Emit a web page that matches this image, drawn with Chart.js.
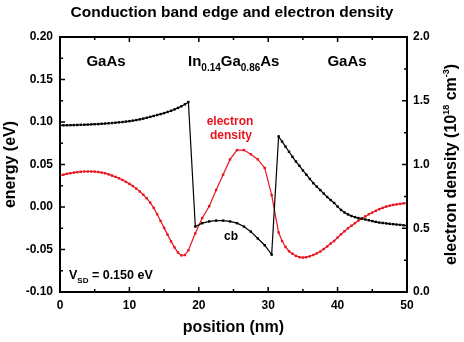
<!DOCTYPE html>
<html>
<head>
<meta charset="utf-8">
<script src="https://cdn.jsdelivr.net/npm/chart.js@4.4.1/dist/chart.umd.min.js"></script>
<style>
  body { margin: 0; background: #fff; }
  canvas { display: block; }
</style>
</head>
<body>
<canvas id="band_chart" width="464" height="342"></canvas>
<script>
const font_family = "'Liberation Sans', Arial, sans-serif";
const red_colour = "#e8141e";

// positions along the structure (nm)
const position_nm = [
    0, 0.5, 1, 1.5, 2, 2.5, 3, 3.5, 4, 4.5, 5, 5.5, 6, 6.5, 7, 7.5, 8, 8.5, 9, 9.5,
    10, 10.5, 11, 11.5, 12, 12.5, 13, 13.5, 14, 14.5, 15, 15.5, 16, 16.5, 17, 17.5, 18, 18.5,
    19.5, 20.5, 21.5, 22.5, 23.5, 24.5, 25.5, 26.5, 27.5, 28.5, 29.5, 30.5, 31.5,
    32, 32.5, 33, 33.5, 34, 34.5, 35, 35.5, 36, 36.5, 37, 37.5, 38, 38.5, 39, 39.5,
    40, 40.5, 41, 41.5, 42, 42.5, 43, 43.5, 44, 44.5, 45, 45.5, 46, 46.5, 47, 47.5,
    48, 48.5, 49, 49.5, 50
];

// conduction band edge (eV), left axis
const cb_energy = [
    0.0960, 0.0961, 0.0962, 0.0963, 0.0964, 0.0965, 0.0967, 0.0968, 0.0970, 0.0972,
    0.0974, 0.0976, 0.0979, 0.0982, 0.0985, 0.0988, 0.0992, 0.0996, 0.1000, 0.1005,
    0.1010, 0.1016, 0.1023, 0.1031, 0.1040, 0.1050, 0.1060, 0.1071, 0.1082, 0.1093,
    0.1105, 0.1118, 0.1132, 0.1148, 0.1166, 0.1185, 0.1208, 0.1235,
    -0.023, -0.019, -0.017, -0.016, -0.016, -0.017, -0.019, -0.023, -0.029, -0.037,
    -0.045, -0.056, 0.083,
    0.077, 0.071, 0.065, 0.059, 0.0535, 0.0485, 0.043, 0.038, 0.033, 0.028,
    0.024, 0.020, 0.0158, 0.0118, 0.0082, 0.0048, 0.0005, -0.0035, -0.0065, -0.0087,
    -0.0106, -0.0119, -0.013, -0.0138, -0.0147, -0.0156, -0.0166, -0.0175, -0.0183, -0.0188,
    -0.0193, -0.0198, -0.0202, -0.0206, -0.021, -0.0215, -0.022
];

// electron density (10^18 cm^-3), right axis
const electron_density = [
    0.913, 0.920, 0.927, 0.932, 0.937, 0.940, 0.943, 0.945, 0.945, 0.945,
    0.944, 0.941, 0.937, 0.931, 0.923, 0.913, 0.903, 0.892, 0.879, 0.864,
    0.848, 0.831, 0.811, 0.788, 0.763, 0.735, 0.701, 0.660, 0.610, 0.557,
    0.503, 0.450, 0.397, 0.350, 0.310, 0.287, 0.290, 0.327,
    0.460, 0.580, 0.673, 0.800, 0.920, 1.040, 1.113, 1.113, 1.080, 1.040,
    0.973, 0.760, 0.467,
    0.400, 0.353, 0.320, 0.300, 0.283, 0.273, 0.270, 0.273, 0.280, 0.290,
    0.303, 0.317, 0.337, 0.357, 0.380, 0.400, 0.427, 0.453, 0.477, 0.500,
    0.520, 0.540, 0.560, 0.577, 0.593, 0.610, 0.623, 0.637, 0.650, 0.660,
    0.670, 0.677, 0.683, 0.687, 0.691, 0.695, 0.697
];

const x_ticks = { min: 0, max: 50, major: 10, minor: 5 };
const energy_ticks = { min: -0.1, max: 0.2, major: 0.05, minor: 0.025 };
const density_ticks = { min: 0, max: 2, major: 0.5, minor: 0.25 };

function toPoints(xs, ys) {
    return xs.map((x, i) => ({ x: x, y: ys[i] }));
}

function boldFont(size) {
    return "bold " + size + "px " + font_family;
}

// frame plus inward ticks on all four sides
const frame_ticks = {
    id: "frame_ticks",
    afterDraw(chart) {
        const ctx = chart.ctx;
        const area = chart.chartArea;
        const { x, y, y2 } = chart.scales;
        ctx.save();
        ctx.strokeStyle = "#000";
        ctx.lineWidth = 2;
        ctx.strokeRect(area.left, area.top, area.right - area.left, area.bottom - area.top);
        ctx.lineWidth = 1.5;
        ctx.beginPath();
        let count = Math.round((x_ticks.max - x_ticks.min) / x_ticks.minor);
        for (let i = 0; i <= count; i++) {
            let px = x.getPixelForValue(x_ticks.min + i * x_ticks.minor);
            let len = i % 2 === 0 ? 5 : 3;
            ctx.moveTo(px, area.bottom); ctx.lineTo(px, area.bottom - len);
            ctx.moveTo(px, area.top); ctx.lineTo(px, area.top + len);
        }
        count = Math.round((energy_ticks.max - energy_ticks.min) / energy_ticks.minor);
        for (let i = 0; i <= count; i++) {
            let py = y.getPixelForValue(energy_ticks.min + i * energy_ticks.minor);
            let len = i % 2 === 0 ? 5 : 3;
            ctx.moveTo(area.left, py); ctx.lineTo(area.left + len, py);
        }
        count = Math.round((density_ticks.max - density_ticks.min) / density_ticks.minor);
        for (let i = 0; i <= count; i++) {
            let py = y2.getPixelForValue(density_ticks.min + i * density_ticks.minor);
            let len = i % 2 === 0 ? 5 : 3;
            ctx.moveTo(area.right, py); ctx.lineTo(area.right - len, py);
        }
        ctx.stroke();
        ctx.restore();
    }
};

// draws a run of [text, size, baseline shift] pieces from x, returns end x
function drawRun(ctx, pieces, x, y) {
    for (let piece of pieces) {
        ctx.font = boldFont(piece[1]);
        ctx.fillText(piece[0], x, y + piece[2]);
        x += ctx.measureText(piece[0]).width;
    }
    return x;
}

function runWidth(ctx, pieces) {
    let w = 0;
    for (let piece of pieces) {
        ctx.font = boldFont(piece[1]);
        w += ctx.measureText(piece[0]).width;
    }
    return w;
}

const labels_plugin = {
    id: "labels_plugin",
    afterDraw(chart) {
        const ctx = chart.ctx;
        ctx.save();
        ctx.textBaseline = "alphabetic";
        ctx.fillStyle = "#000";

        ctx.textAlign = "center";
        ctx.font = boldFont(15);
        ctx.fillText("GaAs", 106, 66);
        ctx.fillText("GaAs", 347, 66);

        ctx.textAlign = "left";
        drawRun(ctx, [["In", 15, 0], ["0.14", 10, 5], ["Ga", 15, 0], ["0.86", 10, 5], ["As", 15, 0]], 188, 66);

        ctx.textAlign = "center";
        ctx.font = boldFont(12);
        ctx.fillText("cb", 231, 240);
        ctx.fillStyle = red_colour;
        ctx.fillText("electron", 230, 125);
        ctx.fillText("density", 231, 139);

        ctx.fillStyle = "#000";
        ctx.textAlign = "left";
        drawRun(ctx, [["V", 12.5, 0], ["SD", 8, 4], [" = 0.150 eV", 12.5, 0]], 69, 279);

        // right axis title, reads bottom to top
        const title_pieces = [["electron density (10", 16, 0], ["18", 9, -7], [" cm", 16, 0], ["-3", 9, -7], [")", 16, 0]];
        const area = chart.chartArea;
        ctx.translate(456, (area.top + area.bottom) / 2);
        ctx.rotate(-Math.PI / 2);
        ctx.textBaseline = "alphabetic";
        let w = runWidth(ctx, title_pieces);
        drawRun(ctx, title_pieces, -w / 2, 0);
        ctx.restore();
    }
};

const tick_font = { family: font_family, size: 12, weight: "bold" };

new Chart(document.getElementById("band_chart").getContext("2d"), {
    type: "line",
    data: {
        datasets: [{
            label: "cb",
            data: toPoints(position_nm, cb_energy),
            yAxisID: "y",
            borderColor: "#000",
            backgroundColor: "#000",
            borderWidth: 1.2,
            pointStyle: "rect",
            pointRadius: 1.7,
            pointBorderWidth: 0,
            tension: 0
        }, {
            label: "electron density",
            data: toPoints(position_nm, electron_density),
            yAxisID: "y2",
            borderColor: red_colour,
            backgroundColor: red_colour,
            borderWidth: 1.2,
            pointStyle: "rect",
            pointRadius: 1.7,
            pointBorderWidth: 0,
            tension: 0
        }]
    },
    options: {
        responsive: false,
        animation: false,
        layout: { padding: 0 },
        plugins: {
            legend: { display: false },
            tooltip: { enabled: false },
            title: {
                display: true,
                text: "Conduction band edge and electron density",
                color: "#000",
                font: { family: font_family, size: 15.5, weight: "bold" },
                padding: { top: 3, bottom: 15.4 }
            }
        },
        scales: {
            x: {
                type: "linear",
                min: x_ticks.min,
                max: x_ticks.max,
                grid: { display: false, drawTicks: false },
                border: { display: false },
                ticks: { stepSize: x_ticks.major, color: "#000", font: tick_font, padding: 6 },
                title: {
                    display: true,
                    text: "position (nm)",
                    color: "#000",
                    font: { family: font_family, size: 16, weight: "bold" },
                    padding: { top: 0, bottom: 5 }
                },
                afterFit(scale) { scale.height = 50; }
            },
            y: {
                position: "left",
                min: energy_ticks.min,
                max: energy_ticks.max,
                grid: { display: false, drawTicks: false },
                border: { display: false },
                ticks: {
                    stepSize: energy_ticks.major,
                    color: "#000",
                    font: tick_font,
                    padding: 7,
                    callback: (value) => value.toFixed(2)
                },
                title: {
                    display: true,
                    text: "energy (eV)",
                    color: "#000",
                    font: { family: font_family, size: 16, weight: "bold" },
                    padding: { top: 1, bottom: 0 }
                },
                afterFit(scale) { scale.width = 60; }
            },
            y2: {
                position: "right",
                min: density_ticks.min,
                max: density_ticks.max,
                grid: { display: false, drawTicks: false },
                border: { display: false },
                ticks: {
                    stepSize: density_ticks.major,
                    color: "#000",
                    font: tick_font,
                    padding: 6,
                    callback: (value) => value.toFixed(1)
                },
                afterFit(scale) { scale.width = 57; }
            }
        }
    },
    plugins: [frame_ticks, labels_plugin]
});
</script>
</body>
</html>
